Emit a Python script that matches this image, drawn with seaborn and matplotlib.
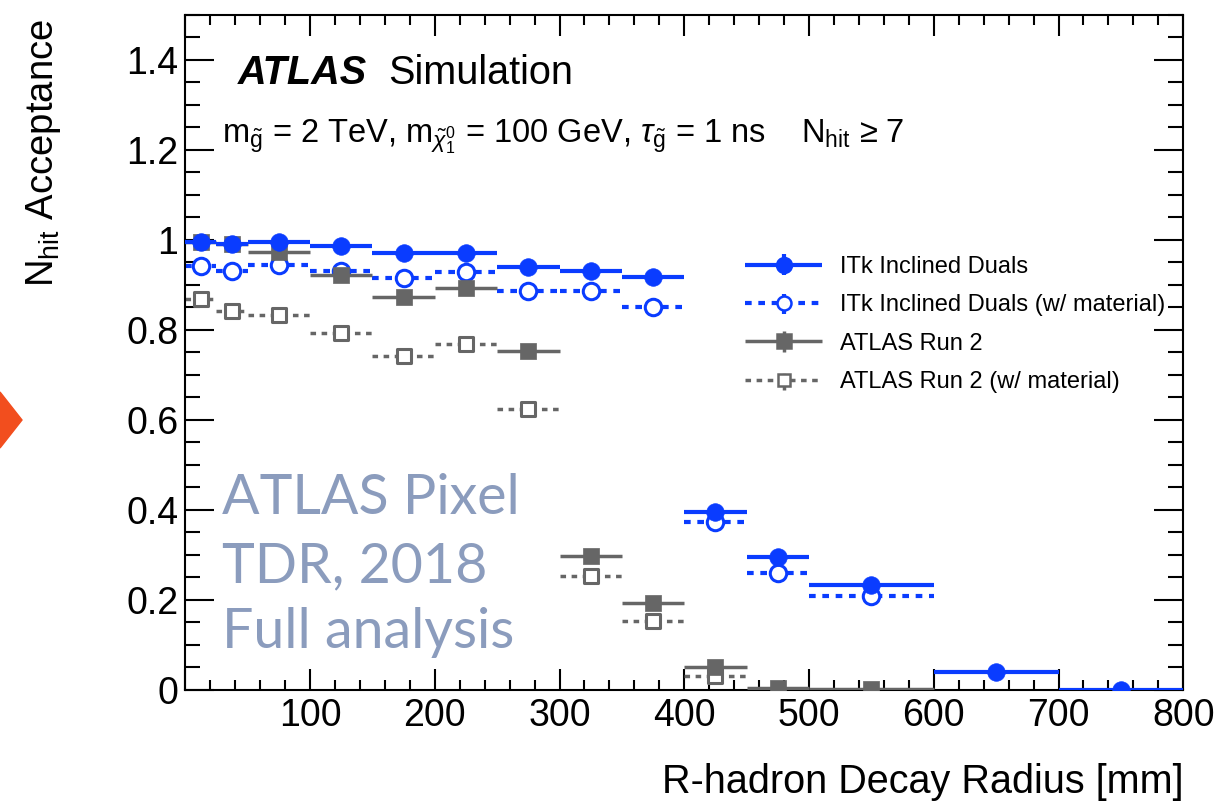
import numpy as np
import pandas as pd
import matplotlib
matplotlib.use("Agg")
import matplotlib.pyplot as plt
import seaborn as sns
from matplotlib.lines import Line2D
from matplotlib.patches import Polygon
from matplotlib.ticker import MultipleLocator
from matplotlib.container import ErrorbarContainer
from matplotlib.legend_handler import HandlerErrorbar, HandlerTuple

# ---------------- data ----------------
itk_edges = [0, 25, 50, 100, 150, 200, 250, 300, 350, 400, 450, 500, 600, 700, 800]
itk_acc = [0.995, 0.99, 0.996, 0.987, 0.972, 0.972, 0.939, 0.932, 0.917,
           0.396, 0.295, 0.233, 0.041, 0.0]

itk_mat_edges = [0, 25, 50, 100, 150, 200, 250, 300, 350, 400, 450, 500, 600]
itk_mat_acc = [0.943, 0.932, 0.944, 0.930, 0.915, 0.928, 0.887, 0.887, 0.852,
               0.373, 0.261, 0.209]

run2_edges = [0, 25, 50, 100, 150, 200, 250, 300, 350, 400, 450, 500, 600]
run2_acc = [0.995, 0.991, 0.974, 0.922, 0.874, 0.893, 0.754, 0.298, 0.193,
            0.052, 0.004, 0.002]

run2_mat_edges = [0, 25, 50, 100, 150, 200, 250, 300, 350, 400, 450]
run2_mat_acc = [0.868, 0.843, 0.833, 0.793, 0.742, 0.769, 0.624, 0.253, 0.153, 0.030]

stat_err = 0.008

labels = ["ITk Inclined Duals", "ITk Inclined Duals (w/ material)",
          "ATLAS Run 2", "ATLAS Run 2 (w/ material)"]

x_ticks = [0, 100, 200, 300, 400, 500, 600, 700, 800]
x_ticklabels = ["", "100", "200", "300", "400", "500", "600", "700", "800"]
y_ticks = [0, 0.2, 0.4, 0.6, 0.8, 1.0, 1.2, 1.4]
y_ticklabels = ["0", "0.2", "0.4", "0.6", "0.8", "1", "1.2", "1.4"]

# ---------------- style ----------------
sns.set_theme(style="ticks")
plt.rcParams["font.family"] = ["Liberation Sans", "DejaVu Sans"]
plt.rcParams["mathtext.fontset"] = "custom"
plt.rcParams["mathtext.rm"] = "Liberation Sans"
plt.rcParams["mathtext.it"] = "Liberation Sans:italic"
plt.rcParams["mathtext.bf"] = "Liberation Sans:bold"
plt.rcParams["text.color"] = "black"
plt.rcParams["axes.labelcolor"] = "black"
plt.rcParams["legend.labelcolor"] = "black"

BLUE = "#0a3cff"
GREY = "#666666"


def binned(edges, vals):
    e = np.asarray(edges, dtype=float)
    return pd.DataFrame({"x": (e[:-1] + e[1:]) / 2,
                         "xerr": (e[1:] - e[:-1]) / 2,
                         "y": vals})


fig = plt.figure(figsize=(12.22, 8.05), dpi=100)
ax = fig.add_axes([0.1516, 0.1429, 0.8167, 0.8385])

series = [
    (binned(itk_mat_edges, itk_mat_acc), BLUE, "white", "o", 140, True, 3.0, 2),
    (binned(run2_mat_edges, run2_mat_acc), GREY, "white", "s", 110, True, 2.5, 2),
    (binned(run2_edges, run2_acc), GREY, GREY, "s", 125, False, 2.5, 3),
    (binned(itk_edges, itk_acc), BLUE, BLUE, "o", 160, False, 3.0, 4),
]
handles = {}
for i, (df, col, face, mk, s, dashed, lw, z) in enumerate(series):
    eb = ax.errorbar(df["x"], df["y"], xerr=df["xerr"], yerr=stat_err, fmt="none",
                     ecolor=col, elinewidth=lw, capsize=0, zorder=z)
    if dashed:
        for c in eb[2]:
            c.set_linestyle((0, (1.6, 1.6)))
    sns.scatterplot(data=df, x="x", y="y", ax=ax, marker=mk, s=s, color=face,
                    edgecolor=col, linewidth=2.2 if face == "white" else 0.5,
                    zorder=z + 0.5, legend=False)
    mh = Line2D([], [], ls="none", marker=mk, markersize=np.sqrt(s) * 0.85,
                markerfacecolor=face, markeredgecolor=col, markeredgewidth=1.8)
    handles[i] = (eb, mh)

leg_handles = [handles[3], handles[0], handles[2], handles[1]]
ax.legend(leg_handles, labels, loc="upper left", bbox_to_anchor=(0.561, 0.643),
          frameon=False, fontsize=17, handlelength=3.26, handletextpad=0.76,
          labelspacing=0.69, borderpad=0, borderaxespad=0, numpoints=1,
          labelcolor="black",
          handler_map={ErrorbarContainer: HandlerErrorbar(xerr_size=1.63, yerr_size=0.45),
                       tuple: HandlerTuple(ndivide=1)})

# ---------------- axes ----------------
ax.set_xlim(0, 800)
ax.set_ylim(0, 1.5)
ax.set_xticks(x_ticks)
ax.set_xticklabels(x_ticklabels)
ax.set_yticks(y_ticks)
ax.set_yticklabels(y_ticklabels)
ax.xaxis.set_minor_locator(MultipleLocator(20))
ax.yaxis.set_minor_locator(MultipleLocator(0.05))
ax.tick_params(which="both", direction="in", top=True, right=True, width=1.5,
               colors="black", labelsize=27)
ax.tick_params(axis="x", which="major", length=15, pad=6)
ax.tick_params(axis="x", which="minor", length=7.5)
ax.tick_params(axis="y", which="major", length=21, pad=5)
ax.tick_params(axis="y", which="minor", length=10.5)
for sp in ax.spines.values():
    sp.set_linewidth(1.5)
    sp.set_color("black")

ax.set_xlabel("R-hadron Decay Radius [mm]", fontsize=28.5, loc="right", color="black")
ax.xaxis.set_label_coords(1.0, -0.108)
ax.set_ylabel(r"N$_{\mathrm{hit}}$ Acceptance", fontsize=27.5, loc="top", color="black")
ax.yaxis.set_label_coords(-0.122, 0.994)

# ---------------- annotations ----------------
ax.text(0.053, 0.898, "ATLAS", transform=ax.transAxes, fontsize=28.5,
        fontweight="bold", fontstyle="italic", va="baseline", color="black")
ax.text(0.2032, 0.898, "Simulation", transform=ax.transAxes, fontsize=28.5,
        va="baseline", color="black")
ax.text(0.037, 0.812,
        r"$\mathrm{m}_{\tilde{\mathrm{g}}}$ = 2 TeV, $\mathrm{m}_{\tilde{\chi}^{0}_{1}}$ = 100 GeV, "
        r"$\tau_{\tilde{\mathrm{g}}}$ = 1 ns    N$_{\mathrm{hit}}$ ≥ 7",
        transform=ax.transAxes, fontsize=23.5, va="baseline", color="black")

wm_lines = ["ATLAS Pixel", "TDR, 2018", "Full analysis"]
wm_base = [0.260, 0.160, 0.062]
for t, yb in zip(wm_lines, wm_base):
    ax.text(0.037, yb, t, transform=ax.transAxes, fontsize=40, color="#8b9cbd",
            family=["Lato", "DejaVu Sans"], va="baseline", zorder=1)

# orange arrow tip at the left edge
fig.patches.append(Polygon([(0, 1 - 392 / 805), (22 / 1222, 1 - 420 / 805), (0, 1 - 448 / 805)],
                           closed=True, transform=fig.transFigure, color="#f24e1e"))

fig.savefig("out.png", dpi=100)
